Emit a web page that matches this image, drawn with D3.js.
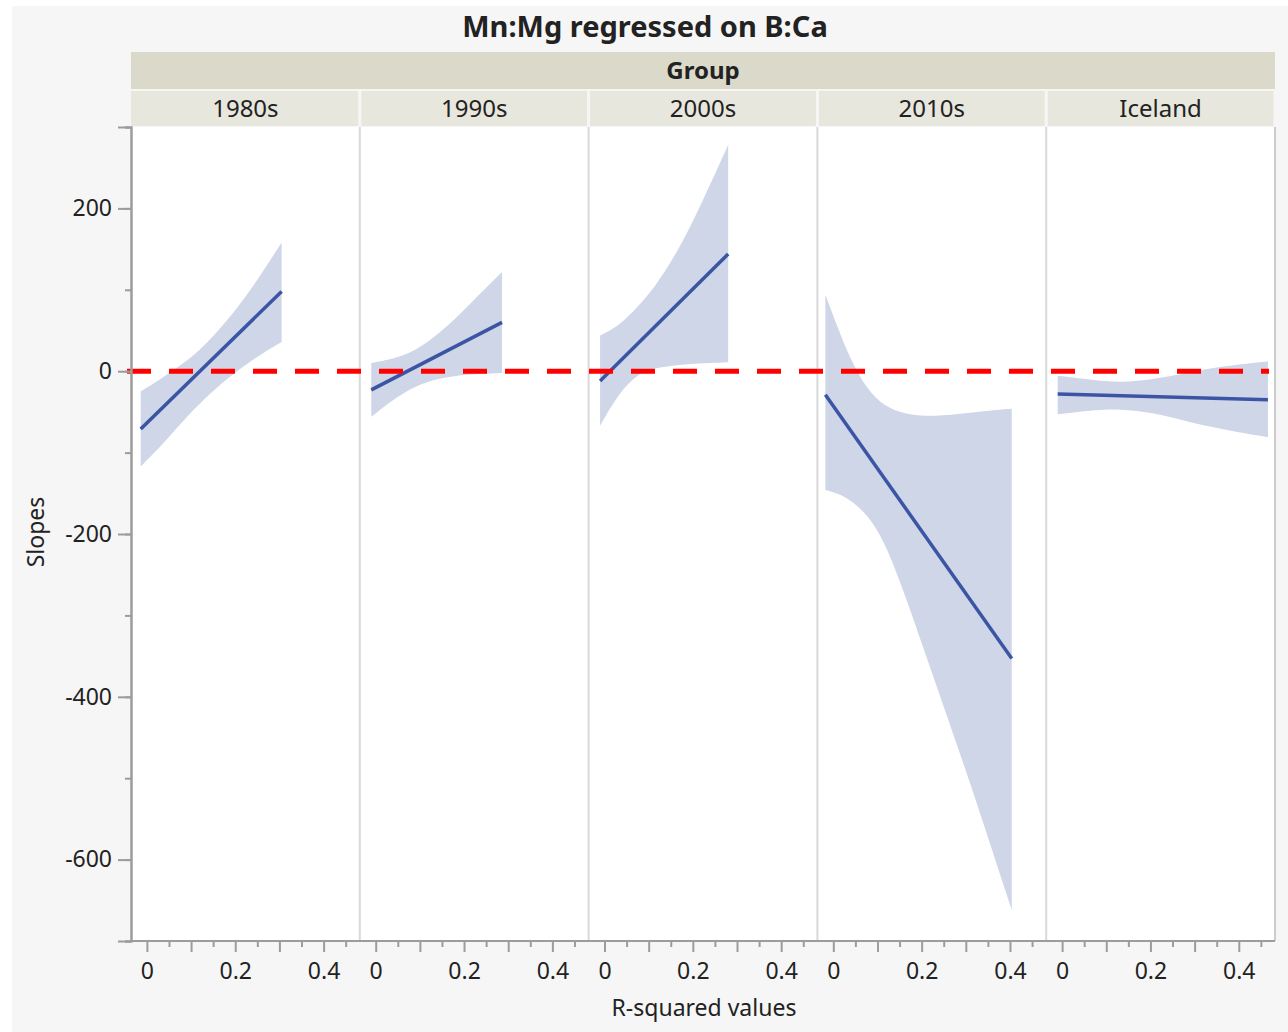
<!DOCTYPE html>
<html>
<head>
<meta charset="utf-8">
<script src="https://cdn.jsdelivr.net/npm/d3@7"></script>
<style>
  body { margin: 0; background: #ffffff; }
  svg text { font-family: "Segoe UI", "Noto Sans", "Open Sans", sans-serif; fill: #222; }
</style>
</head>
<body>
<svg id="viz" width="1288" height="1032"></svg>
<script>
// Data

var groups = ["1980s", "1990s", "2000s", "2010s", "Iceland"];

// fitted line end points (R-squared, slope)
var fitX = [[-0.014, 0.305], [-0.010, 0.286], [-0.010, 0.280], [-0.018, 0.404], [-0.010, 0.466]];
var fitY = [[-71, 98], [-23, 60], [-12, 144], [-29, -353], [-28, -35]];

// confidence band edges
var bandX = [
	[-0.014, 0.039, 0.077, 0.115, 0.168, 0.229, 0.305],
	[-0.010, 0.049, 0.102, 0.163, 0.223, 0.286],
	[-0.010, 0.032, 0.077, 0.115, 0.168, 0.221, 0.280],
	[-0.018, 0.009, 0.039, 0.077, 0.115, 0.161, 0.229, 0.305, 0.404],
	[-0.010, 0.057, 0.132, 0.208, 0.284, 0.36, 0.466]
];
var bandUpper = [
	[-25, -7, 8, 23, 53, 94, 158],
	[10, 16, 28.5, 55, 88, 122],
	[44, 55, 80, 104, 149, 207, 278],
	[94, 55, 14, -23, -43, -53, -56, -51, -46],
	[-5.5, -10, -14.5, -10, -2, 6, 12]
];
var bandLower = [
	[-117, -88, -64, -42, -15, 11, 36],
	[-56, -31, -14.5, -6.5, -3.5, -2.3],
	[-67, -27, -2, 4, 8, 10, 11],
	[-146, -150, -158, -176, -208, -272, -380, -497, -662],
	[-53, -48.5, -46, -51, -62, -71, -81]
];

var yMajor = [-600, -400, -200, 0, 200];
var yMinor = d3.range(-700, 301, 100);
var xMajor = [0, 0.1, 0.2, 0.3, 0.4];
var xMinor = [0.05, 0.15, 0.25, 0.35, 0.45];
var xLabelled = [0, 0.2, 0.4];

// Layout

var svg = d3.select("#viz"),
	pLeft = 131, pRight = 1275, pTop = 127, pBottom = 941,
	panelW = (pRight - pLeft) / groups.length;

svg.append("rect")
	.attr("x", 12).attr("y", 6)
	.attr("width", 1288 - 12).attr("height", 1032 - 6)
	.attr("fill", "#f6f6f6");

svg.append("rect")
	.attr("x", pLeft).attr("y", pTop)
	.attr("width", pRight - pLeft).attr("height", pBottom - pTop)
	.attr("fill", "#ffffff");

var y = d3.scaleLinear().domain([-700, 300]).range([pBottom, pTop]);

// Title and headers

svg.append("text")
	.attr("x", 645).attr("y", 37)
	.attr("text-anchor", "middle")
	.style("font-size", "29px")
	.style("font-weight", "bold")
	.text("Mn:Mg regressed on B:Ca");

svg.append("rect")
	.attr("x", pLeft).attr("y", 52)
	.attr("width", pRight - pLeft).attr("height", 37)
	.attr("fill", "#dbd9c9");

svg.append("text")
	.attr("x", (pLeft + pRight) / 2).attr("y", 79)
	.attr("text-anchor", "middle")
	.style("font-size", "24px")
	.style("font-weight", "bold")
	.text("Group");

// Panels

var area = d3.area()
	.curve(d3.curveBasis);

groups.forEach((name, i) => {
	var x0 = pLeft + i * panelW;
	var x = d3.scaleLinear().domain([-0.036, 0.482]).range([x0, x0 + panelW]);

	svg.append("rect")
		.attr("x", x0 + (i == 0 ? 0 : 1.5)).attr("y", 91)
		.attr("width", panelW - (i == 0 ? 1.5 : 3)).attr("height", 35)
		.attr("fill", "#e8e7dd");

	svg.append("text")
		.attr("x", x0 + panelW / 2).attr("y", 117)
		.attr("text-anchor", "middle")
		.style("font-size", "24px")
		.text(name);

	if (i > 0)
		svg.append("line")
			.attr("x1", x0).attr("x2", x0)
			.attr("y1", pTop).attr("y2", pBottom)
			.style("stroke", "#d9d9d9")
			.attr("stroke-width", 2);

	var pts = bandX[i].map((v, k) => [v, bandUpper[i][k], bandLower[i][k]]);
	svg.append("path")
		.datum(pts)
		.attr("d", area.x(d => x(d[0])).y0(d => y(d[2])).y1(d => y(d[1])))
		.attr("fill", "#ced6e8");

	svg.append("line")
		.attr("x1", x(fitX[i][0])).attr("y1", y(fitY[i][0]))
		.attr("x2", x(fitX[i][1])).attr("y2", y(fitY[i][1]))
		.style("stroke", "#3b55a4")
		.attr("stroke-width", 3.5);

	var ax = svg.append("g")
		.attr("transform", "translate(0," + pBottom + ")")
		.call(d3.axisBottom(x).tickValues(xMajor).tickSize(11).tickPadding(11)
			.tickFormat(d => xLabelled.includes(d) ? String(d) : ""));
	var axm = svg.append("g")
		.attr("transform", "translate(0," + pBottom + ")")
		.call(d3.axisBottom(x).tickValues(xMinor).tickSize(6).tickFormat(""));
	[ax, axm].forEach(g => {
		g.select(".domain").remove();
		g.selectAll("line").style("stroke", "#9c9c9c").attr("stroke-width", 2);
		g.selectAll("text").style("font-size", "23px").style("fill", "#222");
	});
});

// Zero reference line

svg.append("line")
	.attr("x1", pLeft - 4).attr("x2", pRight - 6)
	.attr("y1", y(0)).attr("y2", y(0))
	.style("stroke", "#ff0000")
	.attr("stroke-width", 5)
	.style("stroke-dasharray", "24,18");

// Frame lines

svg.append("line")
	.attr("x1", pRight).attr("x2", pRight).attr("y1", pTop).attr("y2", pBottom)
	.style("stroke", "#bdbdbd").attr("stroke-width", 1.5);
svg.append("line")
	.attr("x1", pLeft).attr("x2", pRight).attr("y1", pBottom).attr("y2", pBottom)
	.style("stroke", "#9c9c9c").attr("stroke-width", 2);

// Y axis

var ay = svg.append("g")
	.attr("transform", "translate(" + pLeft + ",0)")
	.call(d3.axisLeft(y).tickValues(yMajor).tickSize(13).tickPadding(6)
		.tickFormat(d => String(d)));
var aym = svg.append("g")
	.attr("transform", "translate(" + pLeft + ",0)")
	.call(d3.axisLeft(y).tickValues(yMinor).tickSize(6).tickFormat(""));
[ay, aym].forEach(g => {
	g.select(".domain").style("stroke", "#9c9c9c").attr("stroke-width", 2);
	g.selectAll("line").style("stroke", "#9c9c9c").attr("stroke-width", 2);
	g.selectAll("text").style("font-size", "23px").style("fill", "#222");
});

// Axis titles

svg.append("text")
	.attr("x", (pLeft + pRight) / 2 + 1).attr("y", 1016)
	.attr("text-anchor", "middle")
	.style("font-size", "23px")
	.text("R-squared values");

svg.append("text")
	.attr("transform", "translate(44,532) rotate(-90)")
	.attr("text-anchor", "middle")
	.style("font-size", "23px")
	.text("Slopes");
</script>
</body>
</html>
